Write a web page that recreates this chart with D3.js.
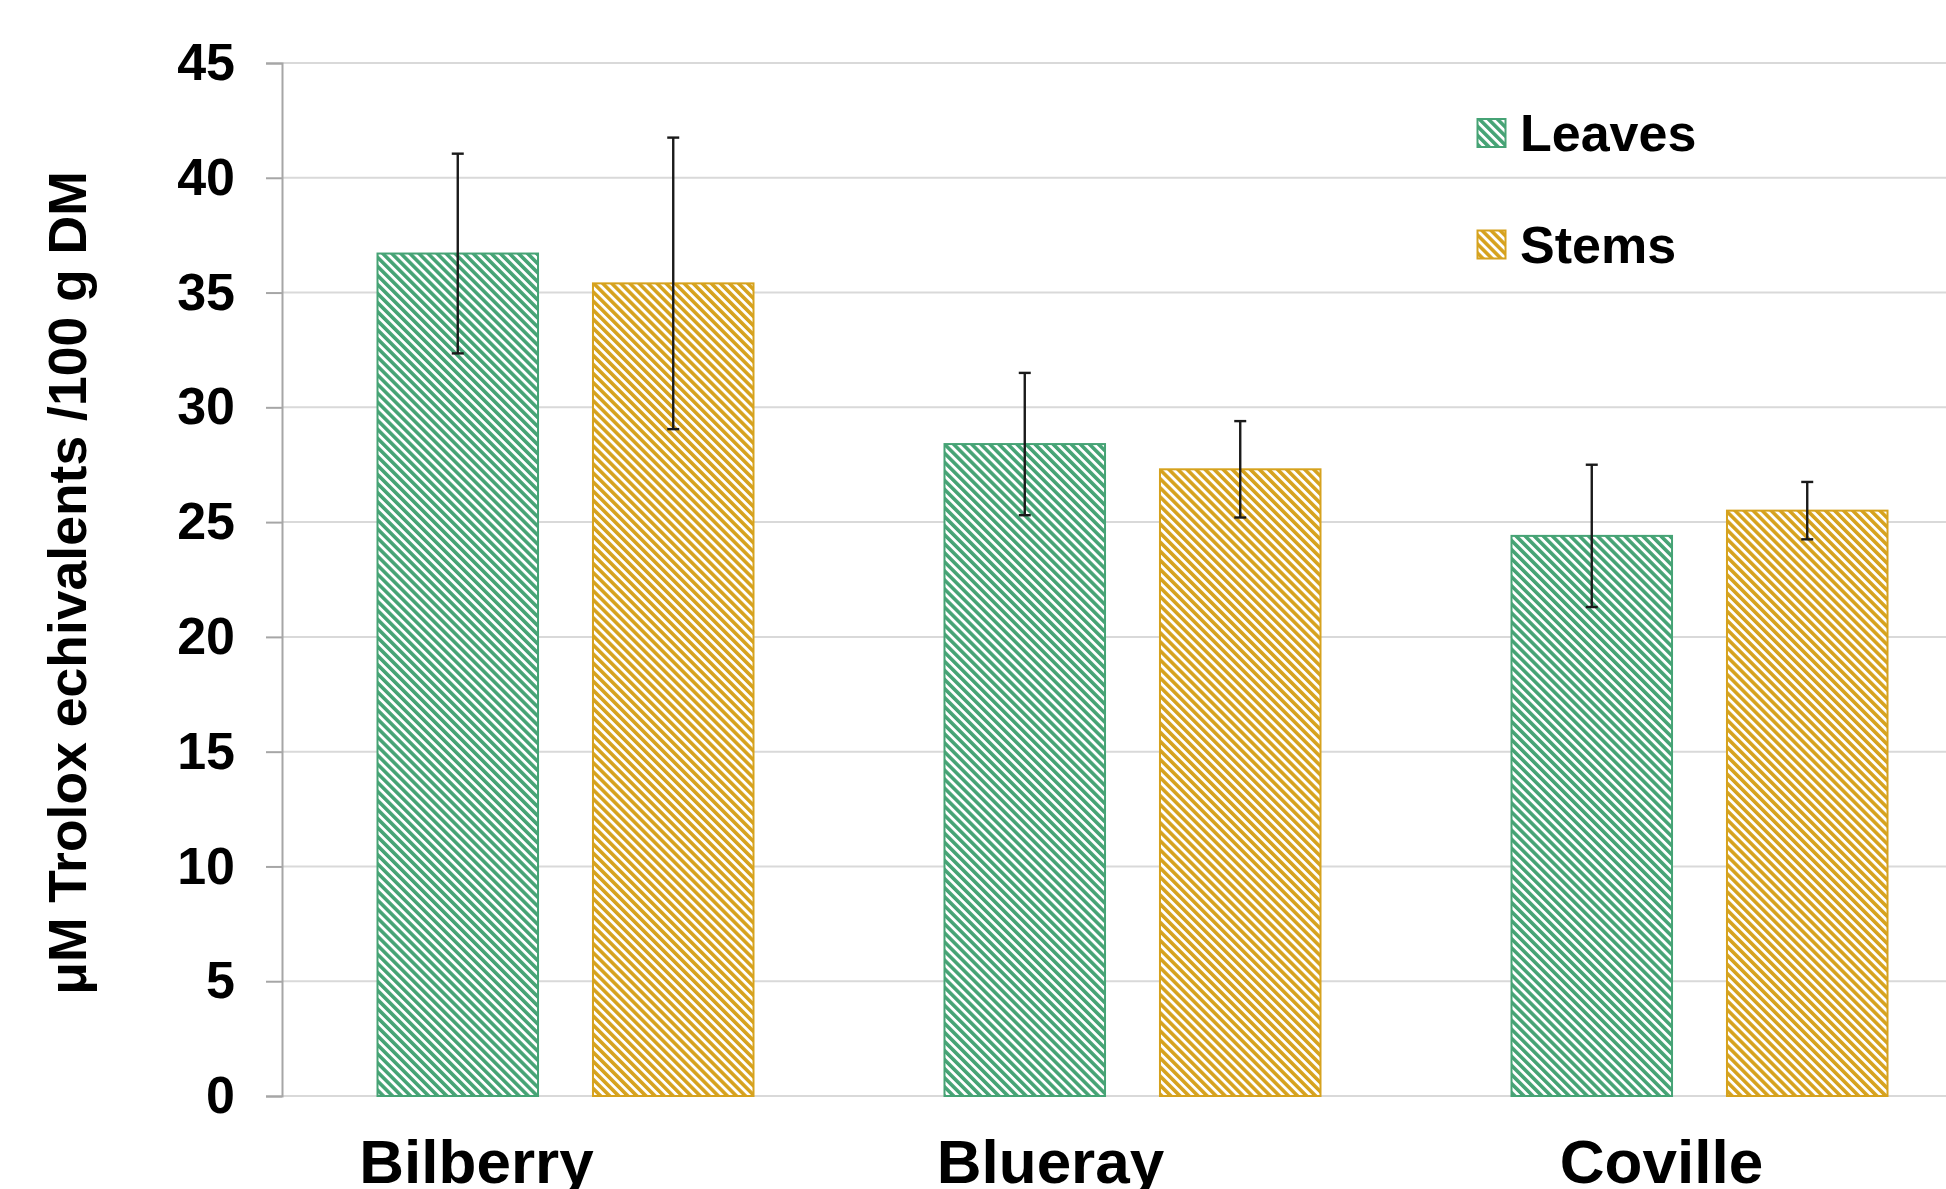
<!DOCTYPE html>
<html>
<head>
<meta charset="utf-8">
<script src="https://cdn.jsdelivr.net/npm/d3@7"></script>
<style>
  html, body { margin: 0; padding: 0; background: #ffffff; overflow: hidden; }
  svg { display: block; font-family: "Liberation Sans", Arial, sans-serif; font-weight: bold; }
</style>
</head>
<body>
<svg id="chart" width="1946" height="1189"></svg>
<script>
// Antioxidant capacity of leaves and stems by cultivar
const categories = ["Bilberry", "Blueray", "Coville"];
const seriesNames = ["Leaves", "Stems"];
const leavesValues = [36.7, 28.4, 24.4];
const leavesErrors = [4.35, 3.1, 3.1];
const stemsValues = [35.4, 27.3, 25.5];
const stemsErrors = [6.35, 2.1, 1.25];
const yTicks = [0, 5, 10, 15, 20, 25, 30, 35, 40, 45];

const seriesColors = { Leaves: "#46a375", Stems: "#d6a21e" };

const rows = [];
categories.forEach((c, i) => {
  rows.push({ cat: c, series: "Leaves", value: leavesValues[i], err: leavesErrors[i] });
  rows.push({ cat: c, series: "Stems", value: stemsValues[i], err: stemsErrors[i] });
});

const svg = d3.select("#chart");
const plot = { left: 282, right: 1983, top: 63, bottom: 1096 };

const y = d3.scaleLinear().domain([0, 45]).range([plot.bottom, plot.top]);
const x0 = d3.scaleBand().domain(categories).range([plot.left, plot.right]).padding(0);
const x1 = d3.scaleBand().domain(seriesNames).range([95.5, 471.5]).paddingInner(0.255).paddingOuter(0);

// Diagonal hatch fills, one per series
const hatchStep = 6.4;
const defs = svg.append("defs");
seriesNames.forEach(s => {
  const p = defs.append("pattern")
    .attr("id", "hatch-" + s)
    .attr("patternUnits", "userSpaceOnUse")
    .attr("width", hatchStep).attr("height", 10)
    .attr("patternTransform", "rotate(-45)");
  p.append("rect").attr("width", hatchStep).attr("height", 10).attr("fill", "#ffffff");
  p.append("rect").attr("width", hatchStep * 0.56).attr("height", 10).attr("fill", seriesColors[s]);
});

// Horizontal gridlines
svg.append("g")
  .selectAll("line")
  .data(yTicks)
  .join("line")
  .attr("x1", plot.left).attr("x2", plot.right)
  .attr("y1", d => y(d)).attr("y2", d => y(d))
  .attr("stroke", "#d9d9d9").attr("stroke-width", 2);

// Y axis
const yAxis = svg.append("g")
  .attr("transform", `translate(${plot.left},0)`)
  .call(d3.axisLeft(y).tickValues(yTicks).tickSize(16).tickPadding(31));
yAxis.select(".domain").attr("stroke", "#a6a6a6").attr("stroke-width", 2);
yAxis.selectAll(".tick line").attr("stroke", "#a6a6a6").attr("stroke-width", 2);
yAxis.selectAll(".tick text")
  .attr("fill", "#000").style("font-size", "52px").style("font-weight", "bold")
  .style("font-family", '"Liberation Sans", Arial, sans-serif');

// Bars
svg.append("g")
  .selectAll("rect")
  .data(rows)
  .join("rect")
  .attr("x", d => x0(d.cat) + x1(d.series))
  .attr("y", d => y(d.value))
  .attr("width", x1.bandwidth())
  .attr("height", d => y(0) - y(d.value))
  .attr("fill", d => `url(#hatch-${d.series})`)
  .attr("stroke", d => seriesColors[d.series])
  .attr("stroke-width", 2);

// Error bars
const eb = svg.append("g").attr("stroke", "#1a1a1a").attr("stroke-width", 2.4);
const cx = d => x0(d.cat) + x1(d.series) + x1.bandwidth() / 2;
eb.selectAll("line.stem").data(rows).join("line").attr("class", "stem")
  .attr("x1", cx).attr("x2", cx)
  .attr("y1", d => y(d.value + d.err)).attr("y2", d => y(d.value - d.err));
eb.selectAll("line.capTop").data(rows).join("line").attr("class", "capTop")
  .attr("x1", d => cx(d) - 6).attr("x2", d => cx(d) + 6)
  .attr("y1", d => y(d.value + d.err)).attr("y2", d => y(d.value + d.err));
eb.selectAll("line.capBot").data(rows).join("line").attr("class", "capBot")
  .attr("x1", d => cx(d) - 6).attr("x2", d => cx(d) + 6)
  .attr("y1", d => y(d.value - d.err)).attr("y2", d => y(d.value - d.err));

// Category labels under the axis
const labelShift = [-89, -82, -38];
svg.append("g")
  .selectAll("text")
  .data(categories)
  .join("text")
  .attr("x", (d, i) => x0(d) + x0.bandwidth() / 2 + labelShift[i])
  .attr("y", 1183)
  .attr("text-anchor", "middle")
  .style("font-size", "62px")
  .text(d => d);

// Y axis title
svg.append("text")
  .attr("transform", "translate(86,583) rotate(-90)")
  .attr("text-anchor", "middle")
  .style("font-size", "53.5px")
  .text("μM Trolox echivalents /100 g DM");

// Legend
const legend = svg.append("g");
const legendY = { Leaves: 133, Stems: 244.5 };
seriesNames.forEach(s => {
  legend.append("rect")
    .attr("x", 1477.5).attr("y", legendY[s] - 14)
    .attr("width", 28).attr("height", 28)
    .attr("fill", `url(#hatch-${s})`)
    .attr("stroke", seriesColors[s]).attr("stroke-width", 2);
  legend.append("text")
    .attr("x", 1520).attr("y", legendY[s] + 18)
    .style("font-size", "52px")
    .text(s);
});
</script>
</body>
</html>
